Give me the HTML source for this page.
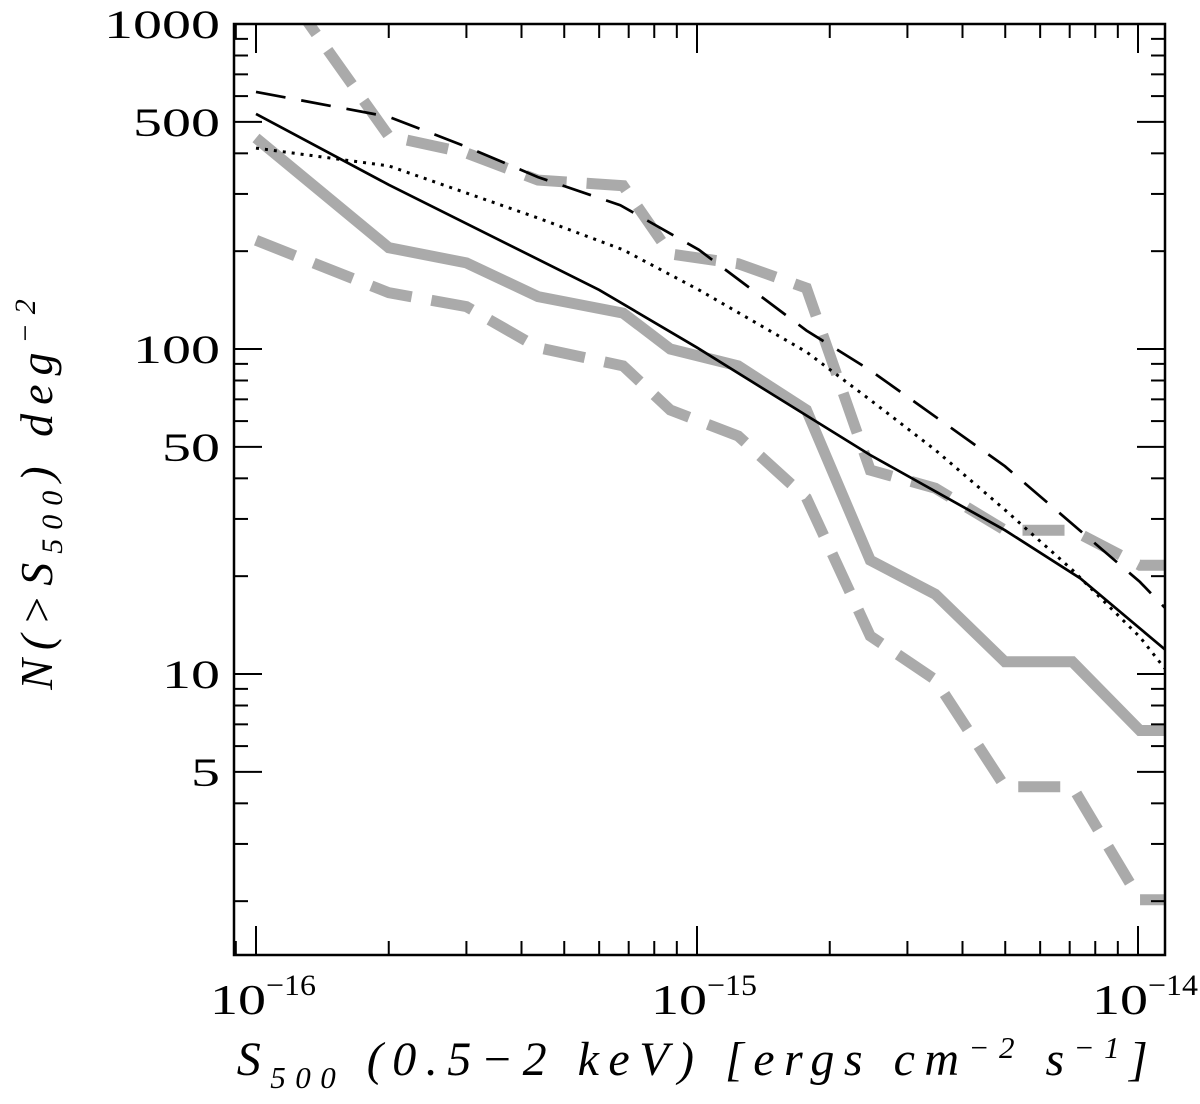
<!DOCTYPE html>
<html><head><meta charset="utf-8"><style>
html,body{margin:0;padding:0;background:#fff;}
svg{display:block;font-family:"Liberation Serif",serif;}
</style></head><body>
<svg id="chart" width="1200" height="1104" viewBox="0 0 1200 1104">
<g id="grid"></g>
<g id="series"></g>
<rect x="234" y="24" width="931" height="931" fill="none" stroke="#000" stroke-width="2.5"/>
<g id="ticks"></g>
<text transform="translate(52,490) rotate(-90)" text-anchor="middle" font-size="46" font-style="italic" letter-spacing="9">N(&gt;S<tspan font-size="30" dy="10">500</tspan><tspan dy="-10">)  deg</tspan><tspan font-size="30" dy="-17">−2</tspan></text>
<text x="697" y="1075" text-anchor="middle" font-size="48" font-style="italic" letter-spacing="9.5">S<tspan font-size="31" dy="13">500</tspan><tspan dy="-13"> (0.5−2  keV)  [ergs  cm</tspan><tspan font-size="31" dy="-17">−2</tspan><tspan dy="17">  s</tspan><tspan font-size="31" dy="-17">−1</tspan><tspan dy="17">]</tspan></text>
</svg>
<script>
const xTicks=[1e-16,1e-15,1e-14];
const xTickExp=["−16","−15","−14"];
const yTicks=[1000,500,100,50,10,5];
const solidGrayX=[1e-16,2e-16,3e-16,4.36e-16,6.8e-16,8.7e-16,1.24e-15,1.77e-15,2.47e-15,3.47e-15,4.99e-15,7.1e-15,1.01e-14,1.15e-14];
const solidGrayY=[446,205,184,145,129,100,88.7,64.9,22.4,17.6,10.9,10.9,6.7,6.7];
const upperGrayX=[1e-16,2e-16,3e-16,4.36e-16,6.8e-16,8.7e-16,1.24e-15,1.77e-15,2.47e-15,3.47e-15,4.99e-15,7.1e-15,1.01e-14,1.15e-14];
const upperGrayY=[1700,452,401,331,318,196,183,154,42.4,37.3,27.7,27.7,21.6,21.6];
const lowerGrayX=[1e-16,2e-16,3e-16,4.36e-16,6.8e-16,8.7e-16,1.24e-15,1.77e-15,2.47e-15,3.47e-15,4.99e-15,7.1e-15,1.01e-14,1.15e-14];
const lowerGrayY=[216,149,135,101,88.7,64.9,54,34.8,13.1,9.6,4.5,4.5,2.02,2.02];
const dashBlackX=[1e-16,2e-16,3e-16,4.36e-16,6.7e-16,1.01e-15,1.77e-15,2.47e-15,4.99e-15,1.01e-14,1.15e-14];
const dashBlackY=[618,518,419,338,277,202,114,86,43.6,19.2,16];
const solidBlackX=[1e-16,2e-16,6.0e-16,1e-15,2.47e-15,4.99e-15,7.4e-15,1.15e-14];
const solidBlackY=[529,320,152,101,47.2,27.7,19.7,11.9];
const dotBlackX=[1e-16,2e-16,4.36e-16,6.8e-16,1.01e-15,1.77e-15,2.47e-15,3.47e-15,4.99e-15,7.1e-15,1.01e-14,1.15e-14];
const dotBlackY=[415,366,253,202,152,98,69.7,48.9,32,20.9,13,10.4];

const NS="http://www.w3.org/2000/svg";
const L=234,R=1165,T=24,B=955;
function sx(v){return 256+(Math.log10(v)+16)*441;}
function sy(v){return 24+(3-Math.log10(v))*325;}
function mk(t,a,p){const e=document.createElementNS(NS,t);for(const k in a)e.setAttribute(k,a[k]);p.appendChild(e);return e;}
const ser=document.getElementById('series');
const clip=mk('clipPath',{id:'pc'},ser);mk('rect',{x:L,y:T,width:R-L,height:B-T},clip);
function line(xs,ys,name,st){
  const d=xs.map((x,i)=>(i?'L':'M')+sx(x).toFixed(1)+','+sy(ys[i]).toFixed(1)).join(' ');
  const p=mk('path',Object.assign({d:d,fill:'none','clip-path':'url(#pc)','stroke-linejoin':'miter'},st),ser);
  
  
}
line(solidGrayX,solidGrayY,'gray-solid-line',{stroke:'#aaa','stroke-width':11});
line(upperGrayX,upperGrayY,'gray-upper-dashed-line',{stroke:'#aaa','stroke-width':11,'stroke-dasharray':'42 20'});
line(lowerGrayX,lowerGrayY,'gray-lower-dashed-line',{stroke:'#aaa','stroke-width':11,'stroke-dasharray':'42 20'});
line(dashBlackX,dashBlackY,'black-dashed-line',{stroke:'#000','stroke-width':2.7,'stroke-dasharray':'30 16'});
line(solidBlackX,solidBlackY,'black-solid-line',{stroke:'#000','stroke-width':2.7});
line(dotBlackX,dotBlackY,'black-dotted-line',{stroke:'#000','stroke-width':3,'stroke-dasharray':'3 6'});

const tk=document.getElementById('ticks');
function tl(x1,y1,x2,y2){mk('line',{x1:x1,y1:y1,x2:x2,y2:y2,stroke:'#000','stroke-width':2},tk);}
for(let e=-17;e<=-14;e++)for(let m=1;m<10;m++){
  const v=m*Math.pow(10,e);const x=sx(v);if(x<L||x>R)continue;
  const len=m===1?29:14;tl(x,B,x,B-len);tl(x,T,x,T+len);
}
xTicks.forEach((v,i)=>{
  const t=mk('text',{x:sx(v)-46,y:1014,'font-size':42},tk);
  
  
  const a=mk('tspan',{textLength:56,lengthAdjust:'spacingAndGlyphs'},t);a.textContent='10';
  const s=mk('tspan',{'font-size':30,dy:-19,textLength:50,lengthAdjust:'spacingAndGlyphs'},t);s.textContent=xTickExp[i];
});
for(let e=0;e<=3;e++)for(let m=1;m<10;m++){
  const v=m*Math.pow(10,e);const y=sy(v);if(y<T-1||y>B)continue;
  const len=(m===1||m===5)?28:14;tl(L,y,L+len,y);tl(R,y,R-len,y);
}
yTicks.forEach(v=>{
  const s=String(v);const w=s.length*29;
  const t=mk('text',{x:220-w,y:sy(v)+14,'font-size':40,textLength:w,lengthAdjust:'spacingAndGlyphs'},tk);
  
  
  t.textContent=s;
});
</script>
</body></html>
